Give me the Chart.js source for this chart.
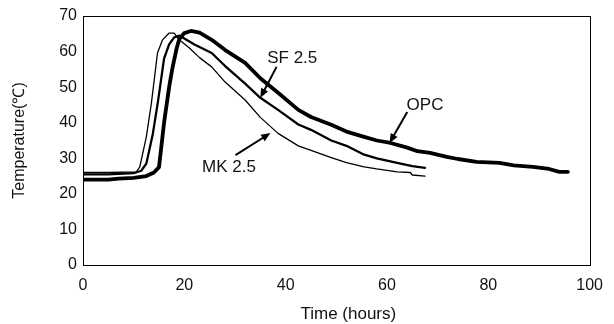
<!DOCTYPE html>
<html>
<head>
<meta charset="utf-8">
<script src="https://cdn.jsdelivr.net/npm/chart.js@4"></script>
<style>
  html, body { margin: 0; padding: 0; background: #fff; }
  #wrap { width: 614px; height: 324px; }
</style>
</head>
<body>
<div id="wrap"><canvas id="chart"></canvas></div>
<script>
// hours / degrees
const opcTime = [0, 5, 7, 10, 12.5, 14, 15, 16, 17, 17.6, 18.5, 19, 20, 21.3, 23, 25.4, 28, 32, 35, 38.5, 42.5, 45, 49, 52, 55.5, 58, 60.7, 64, 66, 68.5, 71.8, 74, 77.7, 82.2, 85, 88.8, 92, 94, 95.7];
const opcTemp = [24, 24, 24.3, 24.5, 25, 26, 27.5, 40, 50, 55, 61, 63.5, 65.2, 65.8, 65.3, 63.3, 60.5, 56.8, 52.5, 48.4, 43.6, 41.6, 39.4, 37.5, 36, 35, 34.3, 33, 32, 31.5, 30.4, 29.8, 29, 28.7, 28, 27.6, 27, 26.2, 26.2];

const sfTime = [0, 5, 10, 11.5, 12.5, 13.8, 14.8, 16, 17, 18, 19, 22, 25.4, 28, 32, 35, 38.5, 42.5, 45, 49, 52, 55.5, 58, 62, 65, 67.5];
const sfTemp = [25.5, 25.5, 25.8, 26.5, 28.5, 37, 46, 58, 62, 64, 64.5, 62, 59.6, 56, 51, 47, 43.6, 39.5, 38, 35, 33.5, 31, 30, 28.7, 27.8, 27.3];

const mkTime = [0, 5, 10.5, 11.2, 12.5, 13.5, 14.7, 15.7, 17, 18, 19, 21, 23, 25.4, 28, 32, 35, 38.5, 42.5, 45, 49, 52, 55.5, 58, 62, 64.6, 65, 67.5];
const mkTemp = [26, 26, 26.2, 27.5, 36, 45.5, 59.6, 63.3, 65.2, 65.2, 63.3, 61, 58.3, 55.7, 51.5, 46.4, 41.5, 37, 33.5, 32.2, 30.2, 28.8, 27.6, 27, 26.2, 26, 25.3, 25];

const xTicks = [0, 20, 40, 60, 80, 100];
const yTicks = [0, 10, 20, 30, 40, 50, 60, 70];

// label text, label position, arrow start, arrow end (data units)
const notes = [
  { text: "SF 2.5", at: [41.3, 58.2], from: [38.2, 55.7], to: [35, 47] },
  { text: "MK 2.5", at: [28.8, 27.6], from: [30.1, 30.9], to: [37, 37.1] },
  { text: "OPC", at: [67.5, 45], from: [64, 43], to: [60.5, 34.3] },
];

const xTitle = "Time (hours)";

function pairs(xs, ys) {
  return xs.map((x, i) => ({ x: x, y: ys[i] }));
}

const FONT = "'Liberation Sans', Arial, sans-serif";

const framePlugin = {
  id: "frame",
  afterDraw(chart) {
    const { ctx, chartArea: a, scales } = chart;
    ctx.save();
    ctx.strokeStyle = "#000";
    ctx.lineWidth = 1;
    ctx.strokeRect(Math.round(a.left) + 0.5, Math.round(a.top) + 0.5,
      Math.round(a.right - a.left), Math.round(a.bottom - a.top));

    ctx.fillStyle = "#111";
    ctx.textAlign = "center";
    ctx.textBaseline = "middle";

    // x title sits a little right of centre in the original
    ctx.font = "17px " + FONT;
    ctx.fillText(xTitle, (a.left + a.right) / 2 + 12, chart.height - 10);

    notes.forEach((n) => {
      const px = (p) => [scales.x.getPixelForValue(p[0]), scales.y.getPixelForValue(p[1])];
      const t = px(n.at);
      ctx.fillText(n.text, t[0], t[1]);
      const s = px(n.from);
      const e = px(n.to);
      const ang = Math.atan2(e[1] - s[1], e[0] - s[0]);
      const head = 10;
      ctx.strokeStyle = "#000";
      ctx.lineWidth = 2;
      ctx.beginPath();
      ctx.moveTo(s[0], s[1]);
      ctx.lineTo(e[0] - Math.cos(ang) * head * 0.6, e[1] - Math.sin(ang) * head * 0.6);
      ctx.stroke();
      ctx.beginPath();
      ctx.moveTo(e[0], e[1]);
      ctx.lineTo(e[0] - head * Math.cos(ang - 0.4), e[1] - head * Math.sin(ang - 0.4));
      ctx.lineTo(e[0] - head * Math.cos(ang + 0.4), e[1] - head * Math.sin(ang + 0.4));
      ctx.closePath();
      ctx.fillStyle = "#000";
      ctx.fill();
      ctx.fillStyle = "#111";
    });
    ctx.restore();
  },
};

new Chart(document.getElementById("chart"), {
  type: "line",
  data: {
    datasets: [
      { label: "OPC", data: pairs(opcTime, opcTemp), borderColor: "#000", borderWidth: 3.8 },
      { label: "SF 2.5", data: pairs(sfTime, sfTemp), borderColor: "#000", borderWidth: 2.3 },
      { label: "MK 2.5", data: pairs(mkTime, mkTemp), borderColor: "#000", borderWidth: 1.3 },
    ],
  },
  options: {
    responsive: true,
    maintainAspectRatio: false,
    animation: false,
    elements: { point: { radius: 0 }, line: { tension: 0, borderJoinStyle: "round", borderCapStyle: "round" } },
    layout: { padding: { left: 0, right: 20, top: 16, bottom: 0 } },
    plugins: { legend: { display: false }, tooltip: { enabled: false } },
    scales: {
      x: {
        type: "linear",
        min: 0,
        max: 100,
        afterBuildTicks: (s) => { s.ticks = xTicks.map((v) => ({ value: v })); },
        afterFit: (s) => { s.height = 59; },
        grid: { display: false, drawTicks: false },
        border: { display: false },
        ticks: { padding: 11, color: "#111", font: { family: FONT, size: 16 } },
        title: { display: false },
      },
      y: {
        min: 0,
        max: 70,
        afterBuildTicks: (s) => { s.ticks = yTicks.map((v) => ({ value: v })); },
        afterFit: (s) => { s.width = 83; },
        grid: { display: false, drawTicks: false },
        border: { display: false },
        ticks: { padding: 6, color: "#111", font: { family: FONT, size: 16 } },
        title: { display: true, text: "Temperature(℃)", color: "#111", padding: { top: 10, bottom: 0 }, font: { family: FONT, size: 16 } },
      },
    },
  },
  plugins: [framePlugin],
});
</script>
</body>
</html>
